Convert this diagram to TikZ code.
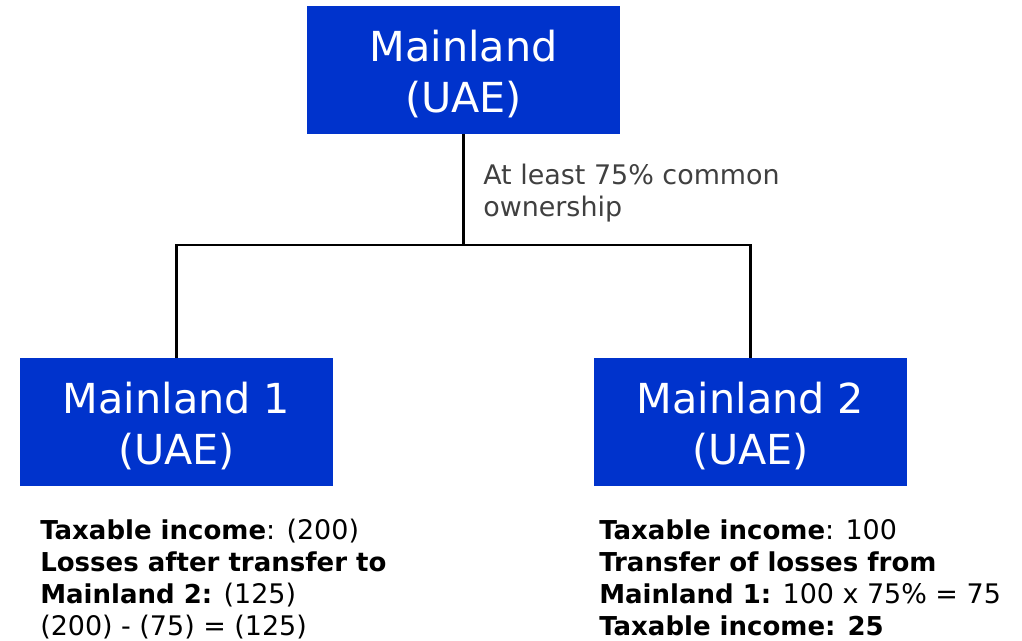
\documentclass[tikz,border=0pt]{standalone}
\usepackage{fontspec}
\setmainfont{DejaVu Sans}
\definecolor{boxblue}{HTML}{0033CC}
\definecolor{labgray}{HTML}{404040}
\newcommand{\bsm}[1]{{\fontsize{19.5}{24}\selectfont\bfseries #1}}
\begin{document}
\begin{tikzpicture}[x=0.75pt,y=-0.75pt,
  entity/.style={fill=boxblue, minimum width=234.75pt, minimum height=96pt, inner sep=0pt},
  boxtext/.style={text=white, align=center, inner sep=0pt, font=\fontsize{31}{38.5}\selectfont},
  link/.style={line width=1.9pt, draw=black},
  note/.style={anchor=north west, align=left, inner sep=0pt, font=\fontsize{20.2}{24}\selectfont},
  grayline/.style={note, text=labgray}
]
\useasboundingbox (0,0) rectangle (1022,640);
\node[entity] (top) at (463.5,70) {};
\node[entity] (m1) at (176.5,422) {};
\node[entity] (m2) at (750.5,422) {};
\node[boxtext] (toptext) at ([yshift=-3pt]top.center) {Mainland\\(UAE)};
\node[boxtext] (m1text) at ([yshift=-3pt]m1.center) {Mainland 1\\(UAE)};
\node[boxtext] (m2text) at ([yshift=-3pt]m2.center) {Mainland 2\\(UAE)};
\coordinate (j) at (463.5,245);
\draw[link] (top.south) -- (j);
\draw[link] (m1.north) |- (j) -| (m2.north);
\node[grayline] (own) at (483,164) {At least 75\% common\\ownership};
\node[note] (n1) at (40,519) {\bsm{Taxable income}: (200)\\\bsm{Losses after transfer to}\\\bsm{Mainland 2:} (125)\\(200) - (75) = (125)};
\node[note] (n2) at (599,519) {\bsm{Taxable income}: 100\\\bsm{Transfer of losses from}\\\bsm{Mainland 1:} 100 x 75\% = 75\\\bsm{Taxable income: 25}};
\end{tikzpicture}
\end{document}
